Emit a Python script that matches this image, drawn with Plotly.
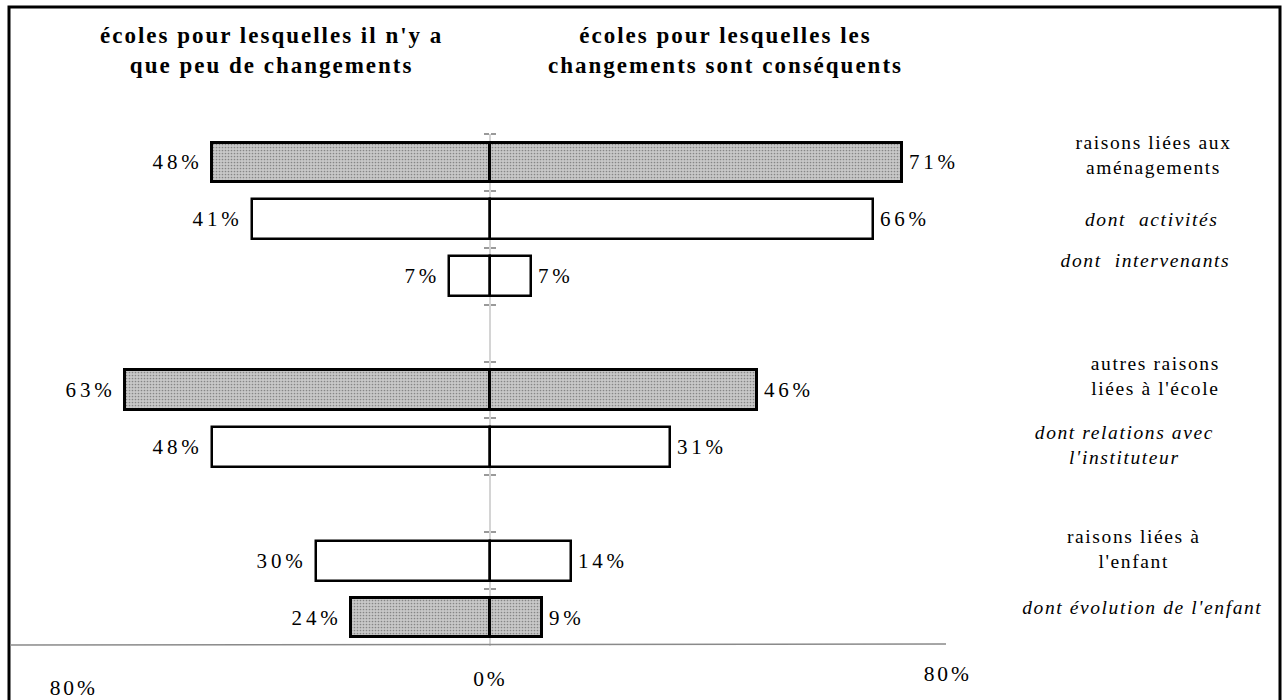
import json
import plotly.graph_objects as go

# ---------------- data ----------------
categories = [
    "raisons liées aux<br>aménagements",
    "<i>dont  activités</i>",
    "<i>dont  intervenants</i>",
    "autres raisons<br>liées à l'école",
    "<i>dont relations avec<br>l'instituteur</i>",
    "raisons liées à<br>l'enfant",
    "<i>dont évolution de l'enfant</i>",
]
few_changes = [48, 41, 7, 63, 48, 30, 24]      # left side
big_changes = [71, 66, 7, 46, 31, 14, 9]       # right side
shaded = [True, False, False, True, False, False, True]
group_sizes = [3, 2, 2]
axis_ticks = [-80, 0, 80]
title_left = "écoles pour lesquelles il n'y a<br>que peu de changements"
title_right = "écoles pour lesquelles les<br>changements sont conséquents"

# ---------------- layout helpers ----------------
W, H = 1282, 700
ML, MR, MT, MB = 26, 328, 134, 54
PW, PH = W - ML - MR, H - MT - MB


def px_x(p):   # pixel x -> paper
    return (p - ML) / PW


def px_y(p):   # pixel y -> paper
    return (H - MB - p) / PH


order = []
i = 0
for g, n in enumerate(group_sizes):
    if g > 0:
        order.append("gap%d" % g)
    order += categories[i:i + n]
    i += n

SERIF = "Liberation Serif, Times New Roman, serif"
GRAY = "#c8c8c8"

fill_colors = [GRAY if s else "white" for s in shaded]
shapes_pat = ["." if s else "" for s in shaded]
line_w = [3 if s else 2.5 for s in shaded]

marker = dict(
    color=fill_colors,
    line=dict(color="black", width=line_w),
    pattern=dict(shape=shapes_pat, fgcolor="#4a4a4a", size=3, solidity=0.25,
                 fillmode="overlay"),
)

fig = go.Figure()
fig.add_trace(go.Bar(y=categories, x=[-v for v in few_changes], orientation="h",
                     width=0.7, marker=marker, hoverinfo="skip", showlegend=False))
fig.add_trace(go.Bar(y=categories, x=big_changes, orientation="h",
                     width=0.7, marker=marker, hoverinfo="skip", showlegend=False))
# invisible companion trace so the right-hand tick half of the centre axis is drawn
fig.add_trace(go.Scatter(y=categories, x=[0] * len(categories), yaxis="y2",
                         mode="markers", marker=dict(opacity=0), hoverinfo="skip",
                         showlegend=False))

annotations = []
spacing = []

# titles
for txt, cx in [(title_left, 272), (title_right, 725)]:
    annotations.append(dict(text="<b>%s</b>" % txt, xref="paper", yref="paper",
                            x=px_x(cx), y=px_y(50), showarrow=False,
                            font=dict(family=SERIF, size=23, color="black"),
                            align="center", xanchor="center", yanchor="middle"))
    spacing.append("2px")

# value labels
for c, l, r in zip(categories, few_changes, big_changes):
    annotations.append(dict(text="%d%%" % l, x=-l, y=c, xref="x", yref="y",
                            showarrow=False, xanchor="right", align="right",
                            xshift=-7, font=dict(family=SERIF, size=21, color="black")))
    spacing.append("3.8px")
    annotations.append(dict(text="%d%%" % r, x=r, y=c, xref="x", yref="y",
                            showarrow=False, xanchor="left", align="left",
                            xshift=5, font=dict(family=SERIF, size=21, color="black")))
    spacing.append("3.8px")

# category labels on the right
label_dx = [5, 3, -3, 7, -24, -14, -6]
label_dy = [7, 0, 16, 14, 2, 12, 10]
for c, dx, dy in zip(categories, label_dx, label_dy):
    annotations.append(dict(text=c, x=px_x(1148), y=c, xref="paper", yref="y",
                            showarrow=False, xanchor="center", align="center",
                            xshift=dx, yshift=dy,
                            font=dict(family=SERIF, size=19.5, color="black")))
    spacing.append("1.6px")

# bottom axis labels
tick_y = [688, 679, 674]
tick_dx = [26, 0, -6]
tick_anchor = ["left", "center", "center"]
for v, ty, dx, xa in zip(axis_ticks, tick_y, tick_dx, tick_anchor):
    annotations.append(dict(text="%d%%" % abs(v), x=v, y=px_y(ty), xref="x", yref="paper",
                            showarrow=False, xanchor=xa, align="center", xshift=dx,
                            yanchor="middle",
                            font=dict(family=SERIF, size=21.5, color="black")))
    spacing.append("2.8px")

shapes = [
    # outer frame
    dict(type="rect", xref="paper", yref="paper",
         x0=px_x(9), x1=px_x(1280), y0=px_y(730), y1=px_y(7),
         line=dict(color="black", width=3), fillcolor="rgba(0,0,0,0)", layer="below"),
    # bottom axis line
    dict(type="line", xref="paper", yref="paper", x0=px_x(10), x1=px_x(946),
         y0=px_y(645), y1=px_y(644), line=dict(color="#8a8a8a", width=1.5)),
]

centre_axis = dict(type="category", categoryorder="array", categoryarray=order,
                   range=[len(order) - 0.5, -0.5], showticklabels=False, showgrid=False,
                   zeroline=False, ticks="outside", tickson="boundaries", ticklen=5,
                   tickcolor="#9a9a9a", tickwidth=1.5, anchor="free", position=0.5,
                   showline=True, linecolor="#d4d4d4", linewidth=1.5,
                   layer="below traces", fixedrange=True)

fig.update_layout(
    width=W, height=H,
    margin=dict(l=ML, r=MR, t=MT, b=MB, pad=0),
    paper_bgcolor="white", plot_bgcolor="white",
    barmode="overlay", bargap=0,
    annotations=annotations, shapes=shapes,
    xaxis=dict(range=[-80, 80], visible=False, fixedrange=True),
    yaxis=centre_axis,
    yaxis2=dict(centre_axis, side="right", overlaying="y"),
)

post = """
document.body.style.margin = '0';
document.body.style.overflow = 'hidden';
var sp = %s;
var gd = document.querySelector('.plotly-graph-div');
gd.querySelectorAll('g.annotation').forEach(function(g){
  var idx = parseInt(g.getAttribute('data-index'));
  var t = g.querySelector('text.annotation-text');
  if (t && sp[idx]) { t.style.letterSpacing = sp[idx]; }
});
""" % json.dumps(spacing)

fig.write_html("out.html", post_script=post, config={"displayModeBar": False})
